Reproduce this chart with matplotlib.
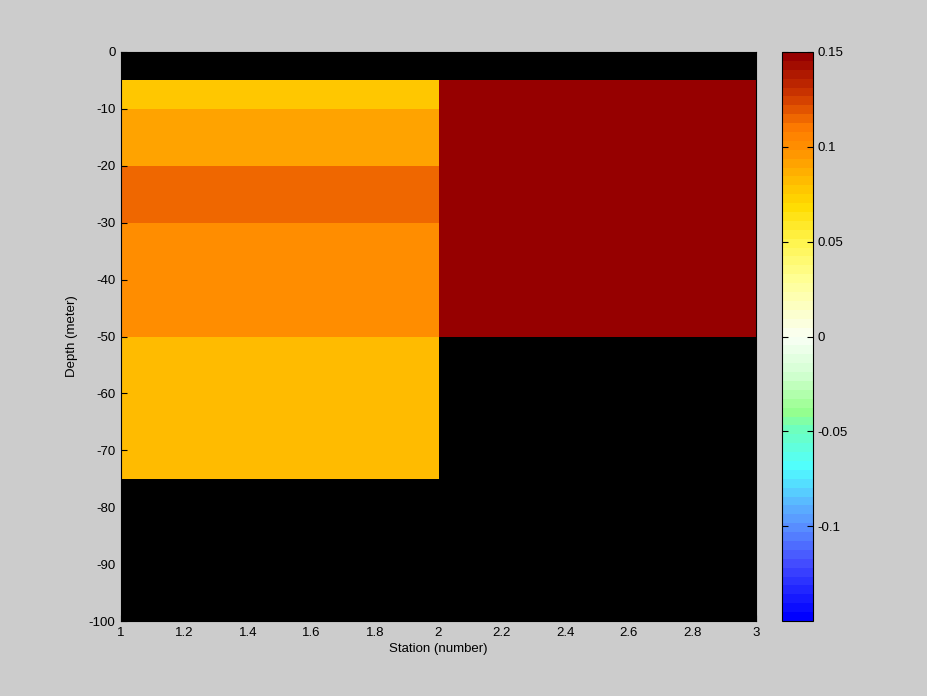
import matplotlib
matplotlib.use("Agg")
import matplotlib.pyplot as plt
import numpy as np
from matplotlib.colors import LinearSegmentedColormap

# station edges and depth edges of the section grid
stations = [1, 2, 3]
depths = [0, -5, -10, -20, -30, -50, -75, -100]

# cell values, one list per station column (top to bottom), nan = no data
station1_vals = [np.nan, 0.075, 0.090, 0.113, 0.102, 0.082, np.nan]
station2_vals = [np.nan, 0.149, 0.149, 0.149, 0.149, np.nan, np.nan]

# colormap anchors (fraction, rgb)
cmap_anchors = [
    (0.000, (0, 0, 255)),
    (0.100, (70, 80, 255)),
    (0.167, (90, 150, 255)),
    (0.200, (90, 180, 255)),
    (0.267, (80, 255, 255)),
    (0.333, (110, 255, 190)),
    (0.367, (150, 255, 140)),
    (0.433, (210, 255, 210)),
    (0.500, (250, 255, 245)),
    (0.600, (255, 255, 150)),
    (0.667, (255, 245, 80)),
    (0.733, (255, 220, 0)),
    (0.767, (255, 195, 0)),
    (0.833, (255, 145, 0)),
    (0.870, (255, 125, 0)),
    (0.930, (205, 55, 0)),
    (1.000, (150, 0, 0)),
]

plt.rcParams['font.family'] = ['Liberation Sans', 'DejaVu Sans']
plt.rcParams['axes.unicode_minus'] = False
plt.rcParams['font.size'] = 9.5

cmap = LinearSegmentedColormap.from_list(
    'section', [(f, tuple(c / 255 for c in rgb)) for f, rgb in cmap_anchors], N=64)

bg = '#cccccc'
fig = plt.figure(figsize=(9.28, 6.96), dpi=100, facecolor=bg)
ax = fig.add_axes([121 / 928, 1 - 621 / 696, (756 - 121) / 928, (621 - 52) / 696])
cax = fig.add_axes([782 / 928, 1 - 621 / 696, (813 - 782) / 928, (621 - 52) / 696])

values = np.ma.masked_invalid(np.column_stack([station1_vals, station2_vals]))
mesh = ax.pcolormesh(stations, depths, values, cmap=cmap, vmin=-0.15, vmax=0.15,
                     shading='flat')
ax.set_facecolor('black')
ax.set_xlim(1, 3)
ax.set_ylim(-100, 0)
ax.set_xticks(np.arange(1, 3.01, 0.2))
ax.set_xticklabels(['1', '1.2', '1.4', '1.6', '1.8', '2', '2.2', '2.4', '2.6', '2.8', '3'])
ax.set_yticks(np.arange(-100, 1, 10))
ax.tick_params(direction='in', length=4, pad=4)
ax.set_xlabel('Station (number)', labelpad=3)
ax.set_ylabel('Depth (meter)', labelpad=8)

cb = fig.colorbar(mesh, cax=cax)
cb.set_ticks([-0.1, -0.05, 0, 0.05, 0.1, 0.15])
cb.set_ticklabels(['-0.1', '-0.05', '0', '0.05', '0.1', '0.15'])
cax.tick_params(direction='in', length=4, left=True, right=True, pad=3)

fig.savefig('out.png', dpi=100, facecolor=bg)
